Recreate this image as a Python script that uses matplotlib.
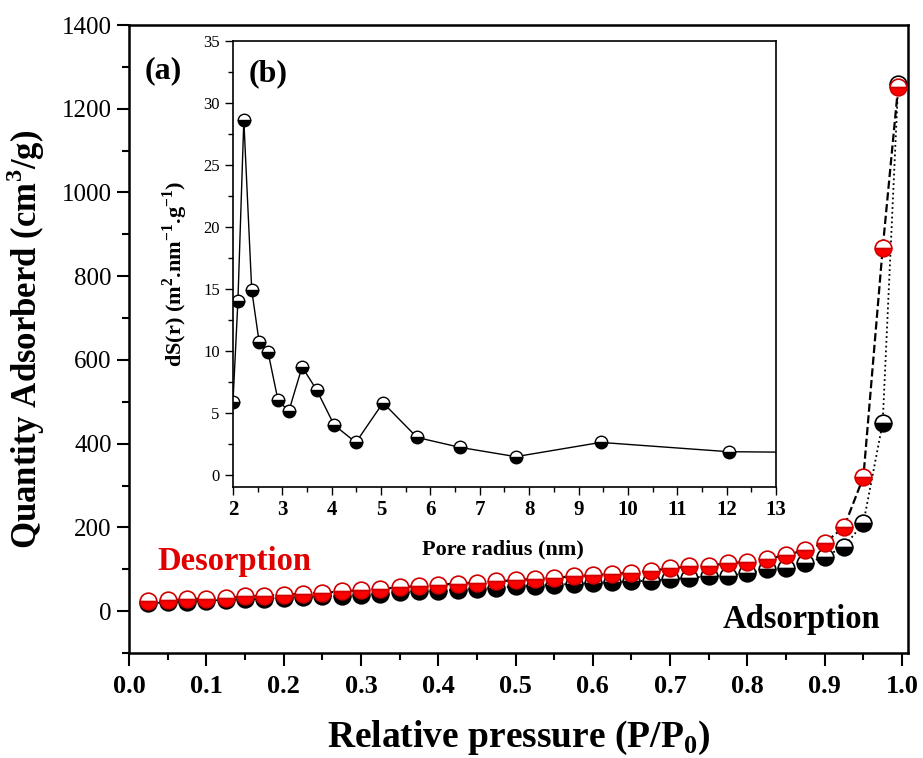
import matplotlib
matplotlib.use("Agg")
from matplotlib import pyplot as plt
import numpy as np

plt.rcParams['font.family'] = ['Liberation Serif', 'DejaVu Serif']
plt.rcParams['mathtext.fontset'] = 'custom'
plt.rcParams['mathtext.rm'] = 'Liberation Serif'
plt.rcParams['mathtext.bf'] = 'Liberation Serif:bold'

## isotherm, relative pressure P/P0
pressure = [0.025, 0.05, 0.075, 0.1, 0.125, 0.15, 0.175, 0.2, 0.225, 0.25,
            0.275, 0.3, 0.325, 0.35, 0.375, 0.4, 0.425, 0.45, 0.475, 0.5,
            0.525, 0.55, 0.575, 0.6, 0.625, 0.65, 0.675, 0.7, 0.725, 0.75,
            0.775, 0.8, 0.825, 0.85, 0.875, 0.9, 0.925, 0.95, 0.975, 0.995]
adsorption = [19, 21, 23, 25, 27, 28, 30, 32, 34, 35,
              37, 39, 41, 45, 47, 49, 51, 53, 56, 59,
              61, 63, 65, 67, 69, 71, 73, 76, 80, 83,
              85, 90, 100, 104, 114, 130, 154, 210, 450, 1258]
desorption = [24, 26, 28, 30, 32, 35, 37, 39, 42, 44,
              47, 50, 53, 57, 60, 63, 66, 68, 71, 74,
              77, 80, 83, 86, 89, 92, 97, 102, 107, 109,
              114, 118, 125, 133, 147, 163, 201, 320, 867, 1253]

## pore size distribution (inset)
pore_radius = [2.0, 2.1, 2.22, 2.38, 2.53, 2.71, 2.91, 3.13, 3.40, 3.70,
               4.05, 4.49, 5.04, 5.73, 6.6, 7.73, 9.45, 12.04, 13.5]
dS = [5.85, 14.0, 28.6, 14.9, 10.7, 9.9, 6.05, 5.1, 8.7, 6.8,
      4.0, 2.6, 5.8, 3.0, 2.2, 1.45, 2.6, 1.85, 1.8]

fig = plt.figure(figsize=(9.23, 7.58), dpi=100)
ax = fig.add_axes([0.1398, 0.1385, 0.8440, 0.8285])

ax.plot(pressure, adsorption, ':', color='black', lw=1.3, marker='o', ms=12,
        fillstyle='bottom', markerfacecolor='black', markerfacecoloralt='white',
        markeredgecolor='black', markeredgewidth=1.2, zorder=3)
ax.plot(pressure, desorption, '--', color='black', lw=1.6, marker='o', ms=12,
        fillstyle='bottom', markerfacecolor='red', markerfacecoloralt='white',
        markeredgecolor='#d00000', markeredgewidth=1.2, zorder=4)

ax.set_xlim(0, 1.0078)
ax.set_ylim(-100, 1400)
ax.set_xticks(np.arange(0, 1.01, 0.1))
ax.set_xticks(np.arange(0.05, 1.0, 0.1), minor=True)
ax.set_yticks(np.arange(0, 1401, 200))
ax.set_yticks(np.arange(-100, 1400, 200), minor=True)
ax.set_xticklabels(['%.1f' % v for v in np.arange(0, 1.01, 0.1)], fontweight='bold')
ax.tick_params(axis='both', which='major', direction='out', length=9, width=1.5,
               labelsize=18, top=False, right=False)
ax.tick_params(axis='both', which='minor', direction='out', length=5, width=1.5,
               top=False, right=False)
ax.tick_params(axis='x', labelsize=19, pad=7)
for s in ax.spines.values():
    s.set_linewidth(1.8)

ax.set_xlabel(r'Relative pressure (P/P$_{\mathbf{0}}$)', fontsize=27, fontweight='bold')
ax.set_ylabel(r'Quantity Adsorberd (cm$^{\mathbf{3}}$/g)', fontsize=25, fontweight='bold')
ax.xaxis.set_label_coords(0.5, -0.104)
ax.yaxis.set_label_coords(-0.105, 0.5)

ax.text(0.0205, 0.927, '(a)', transform=ax.transAxes, fontsize=23,
        fontweight='bold', va='center', ha='left')
ax.text(0.037, 0.145, 'Desorption', transform=ax.transAxes, fontsize=23.5,
        fontweight='bold', color='#e00000', va='center', ha='left')
ax.text(0.762, 0.053, 'Adsorption', transform=ax.transAxes, fontsize=23.5,
        fontweight='bold', color='black', va='center', ha='left')

## inset
ins = fig.add_axes([0.2524, 0.3575, 0.5883, 0.5884])
ins.plot(pore_radius, dS, '-', color='black', lw=1.0, marker='o', ms=9,
         fillstyle='bottom', markerfacecolor='black', markerfacecoloralt='white',
         markeredgecolor='black', markeredgewidth=1.0)
ins.set_xlim(2, 13)
ins.set_ylim(-1, 35)
ins.set_xticks(np.arange(2, 14, 1))
ins.set_xticks(np.arange(2.5, 13, 1), minor=True)
ins.set_yticks(np.arange(0, 36, 5))
ins.set_yticks(np.arange(2.5, 35, 5), minor=True)
ins.set_xticklabels([str(v) for v in range(2, 14)], fontweight='bold')
ins.tick_params(axis='both', which='major', direction='out', length=6, width=1.0,
                labelsize=12, top=False, right=False)
ins.tick_params(axis='both', which='minor', direction='out', length=3.5, width=1.0,
                top=False, right=False)
ins.tick_params(axis='x', labelsize=15)
for s in ins.spines.values():
    s.set_linewidth(1.2)
ins.set_xlabel('Pore radius (nm)', fontsize=16, fontweight='bold')
ins.set_ylabel(r'dS(r) (m$^{\mathbf{2}}$.nm$^{\mathbf{-1}}$.g$^{\mathbf{-1}}$)',
               fontsize=16, fontweight='bold')
ins.xaxis.set_label_coords(0.497, -0.117)
ins.yaxis.set_label_coords(-0.079, 0.478)
ins.text(0.028, 0.926, '(b)', transform=ins.transAxes, fontsize=23,
         fontweight='bold', va='center', ha='left')

fig.savefig('out.png', dpi=100)
